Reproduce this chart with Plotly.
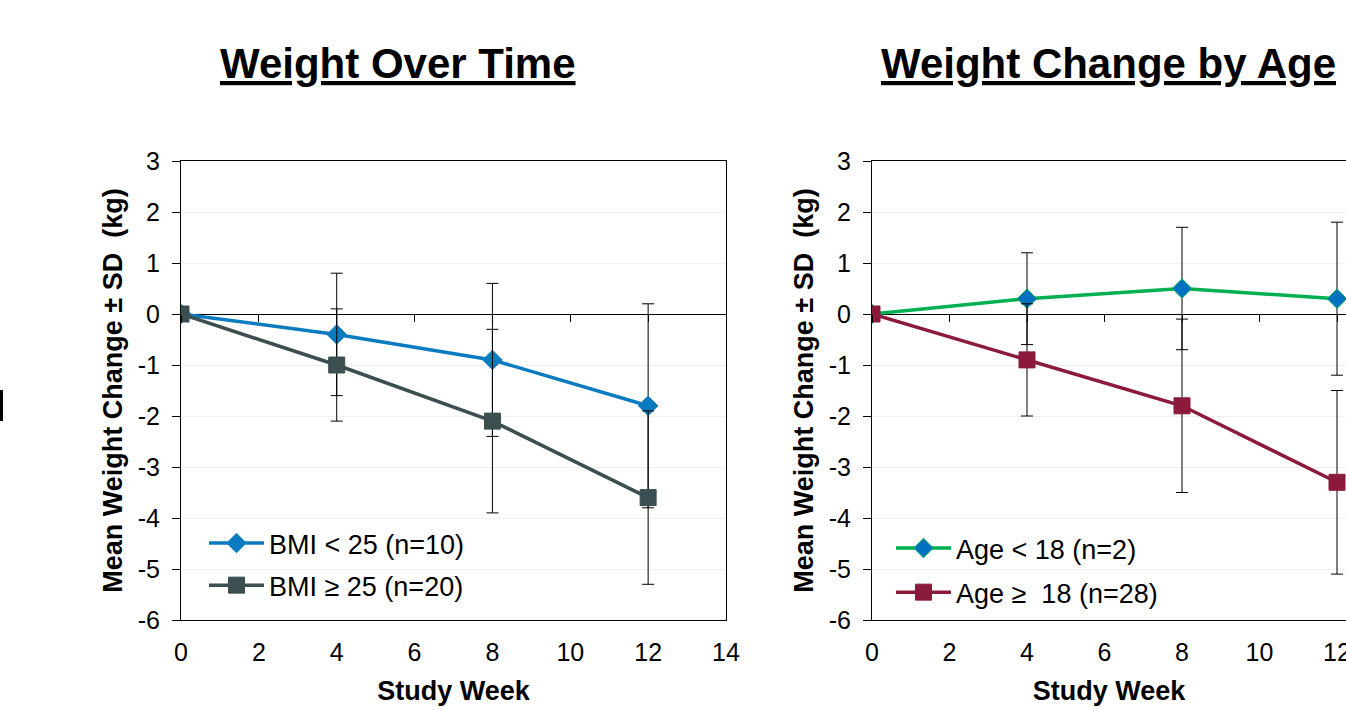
import plotly.graph_objects as go

weeks = [0, 4, 8, 12]

bmi_lt25_mean = [0, -0.4, -0.9, -1.8]
bmi_lt25_sd = [0, 1.2, 1.5, 2.0]
bmi_ge25_mean = [0, -1.0, -2.1, -3.6]
bmi_ge25_sd = [0, 1.1, 1.8, 1.7]

age_lt18_mean = [0, 0.3, 0.5, 0.3]
age_lt18_sd = [0, 0.9, 1.2, 1.5]
age_ge18_mean = [0, -0.9, -1.8, -3.3]
age_ge18_sd = [0, 1.1, 1.7, 1.8]

x_ticks = [0, 2, 4, 6, 8, 10, 12, 14]
y_ticks = [-6, -5, -4, -3, -2, -1, 0, 1, 2, 3]
y_tick_labels = ["-6", "-5", "-4", "-3", "-2", "-1", "0", "1", "2", "3"]

FONT = "Liberation Sans, Arial, sans-serif"
W, H = 1346, 710
ML, MR, MT, MB = 181, 0, 161, 90
PW = W - ML - MR
PH = H - MT - MB


def px_x(p):
    return (p - ML) / PW


def px_y(p):
    return (H - MB - p) / PH


fig = go.Figure()


def add_series(x, y, sd, name, color, mcolor, mline, symbol, size, xa, ya, legend, group):
    fig.add_trace(go.Scatter(
        x=x, y=y, name=name, mode="lines+markers",
        line=dict(color=color, width=3.5),
        marker=dict(symbol=symbol, size=size, color=mcolor,
                    line=dict(color=mline, width=1)),
        error_y=dict(type="data", array=sd, visible=True, color="#000000",
                     thickness=1, width=6),
        xaxis=xa, yaxis=ya, legend=legend, legendgroup=group,
    ))


add_series(weeks, bmi_lt25_mean, bmi_lt25_sd, "BMI < 25 (n=10)", "#0B7BC0", "#0B7BC0",
           "#0B7BC0", "diamond", 15, "x", "y", "legend", "a")
add_series(weeks, bmi_ge25_mean, bmi_ge25_sd, "BMI \u2265 25 (n=20)", "#3C4F50", "#3C4F50",
           "#3C4F50", "square", 16, "x", "y", "legend", "b")
add_series(weeks, age_lt18_mean, age_lt18_sd, "Age < 18 (n=2)", "#00B050", "#0070C0",
           "#00B050", "diamond", 15, "x2", "y2", "legend2", "c")
add_series(weeks, age_ge18_mean, age_ge18_sd, "Age \u2265  18 (n=28)", "#8B1A3B", "#8B1A3B",
           "#8B1A3B", "square", 16, "x2", "y2", "legend2", "d")

dom_left = [0, px_x(726)]
dom_right = [px_x(872), 1]
right_max = (W - 872) / ((1337 - 872) / 12)

tickfont = dict(family=FONT, size=25, color="#000000")
titlefont = dict(family=FONT, size=27, color="#000000")
legendfont = dict(family=FONT, size=27, color="#000000")

common_x = dict(
    tickvals=x_ticks, showgrid=False, zeroline=False, showline=True,
    linecolor="#000000", linewidth=1, mirror=True,
    ticks="outside", ticklen=10, tickcolor="rgba(0,0,0,0)",
    tickfont=tickfont, fixedrange=True, ticklabeloverflow="allow",
)
common_y = dict(
    range=[-6, 3], tickvals=y_ticks, ticktext=y_tick_labels,
    showgrid=True, gridcolor="#EFEFEF", gridwidth=1,
    zeroline=True, zerolinecolor="#000000", zerolinewidth=1,
    showline=True, linecolor="#000000", linewidth=1,
    ticks="outside", ticklen=8, tickcolor="#000000", ticklabelstandoff=7,
    tickfont=tickfont, fixedrange=True,
    title=dict(text="<b>Mean Weight Change \u00b1 SD  (kg)</b>", font=titlefont, standoff=7),
)

fig.update_layout(
    width=W, height=H,
    margin=dict(l=ML, r=MR, t=MT, b=MB, autoexpand=False),
    paper_bgcolor="white", plot_bgcolor="white",
    font=dict(family=FONT, color="#000000"),
    xaxis=dict(domain=dom_left, range=[0, 14], anchor="y",
               title=dict(text="<b>Study Week</b>", font=titlefont, standoff=16), **common_x),
    yaxis=dict(domain=[0, 1], anchor="x", mirror=True, **common_y),
    xaxis2=dict(domain=dom_right, range=[0, right_max], anchor="y2",
                title=dict(text="<b>Study Week</b>", font=titlefont, standoff=16), **common_x),
    yaxis2=dict(domain=[0, 1], anchor="x2", mirror=False, **common_y),
    xaxis3=dict(overlaying="x", anchor="free", position=6 / 9, range=[0, 14],
                tickvals=x_ticks, ticks="outside", ticklen=7, tickcolor="#000000",
                showticklabels=False, showline=False, showgrid=False, zeroline=False,
                fixedrange=True),
    xaxis4=dict(overlaying="x2", anchor="free", position=6 / 9, range=[0, right_max],
                tickvals=x_ticks, ticks="outside", ticklen=7, tickcolor="#000000",
                showticklabels=False, showline=False, showgrid=False, zeroline=False,
                fixedrange=True),
    legend=dict(x=px_x(204), y=px_y(519), xanchor="left", yanchor="top",
                bgcolor="rgba(0,0,0,0)", font=legendfont, itemwidth=55,
                tracegroupgap=4, itemclick=False, itemdoubleclick=False),
    legend2=dict(x=px_x(891), y=px_y(524), xanchor="left", yanchor="top",
                 bgcolor="rgba(0,0,0,0)", font=legendfont, itemwidth=55,
                 tracegroupgap=6, itemclick=False, itemdoubleclick=False),
    showlegend=True,
    annotations=[
        dict(text="<b><u>Weight Over Time</u></b>", x=px_x(398), y=px_y(64),
             xref="paper", yref="paper", showarrow=False, xanchor="center", yanchor="middle",
             font=dict(family=FONT, size=42, color="#000000")),
        dict(text="<b><u>Weight Change by Age</u></b>", x=px_x(1108), y=px_y(64),
             xref="paper", yref="paper", showarrow=False, xanchor="center", yanchor="middle",
             font=dict(family=FONT, size=42, color="#000000")),
    ],
    shapes=[
        dict(type="rect", xref="paper", yref="paper",
             x0=px_x(0), x1=px_x(3), y0=px_y(421), y1=px_y(390),
             fillcolor="#000000", line=dict(width=0)),
    ],
)

# empty traces so the overlay tick axes are drawn
fig.add_trace(go.Scatter(x=[None], y=[None], xaxis="x3", yaxis="y", showlegend=False, hoverinfo="skip"))
fig.add_trace(go.Scatter(x=[None], y=[None], xaxis="x4", yaxis="y2", showlegend=False, hoverinfo="skip"))

fig.write_html(
    "out.html",
    config={"displayModeBar": False},
    post_script="document.body.style.margin='0';document.documentElement.style.overflow='hidden';",
)
